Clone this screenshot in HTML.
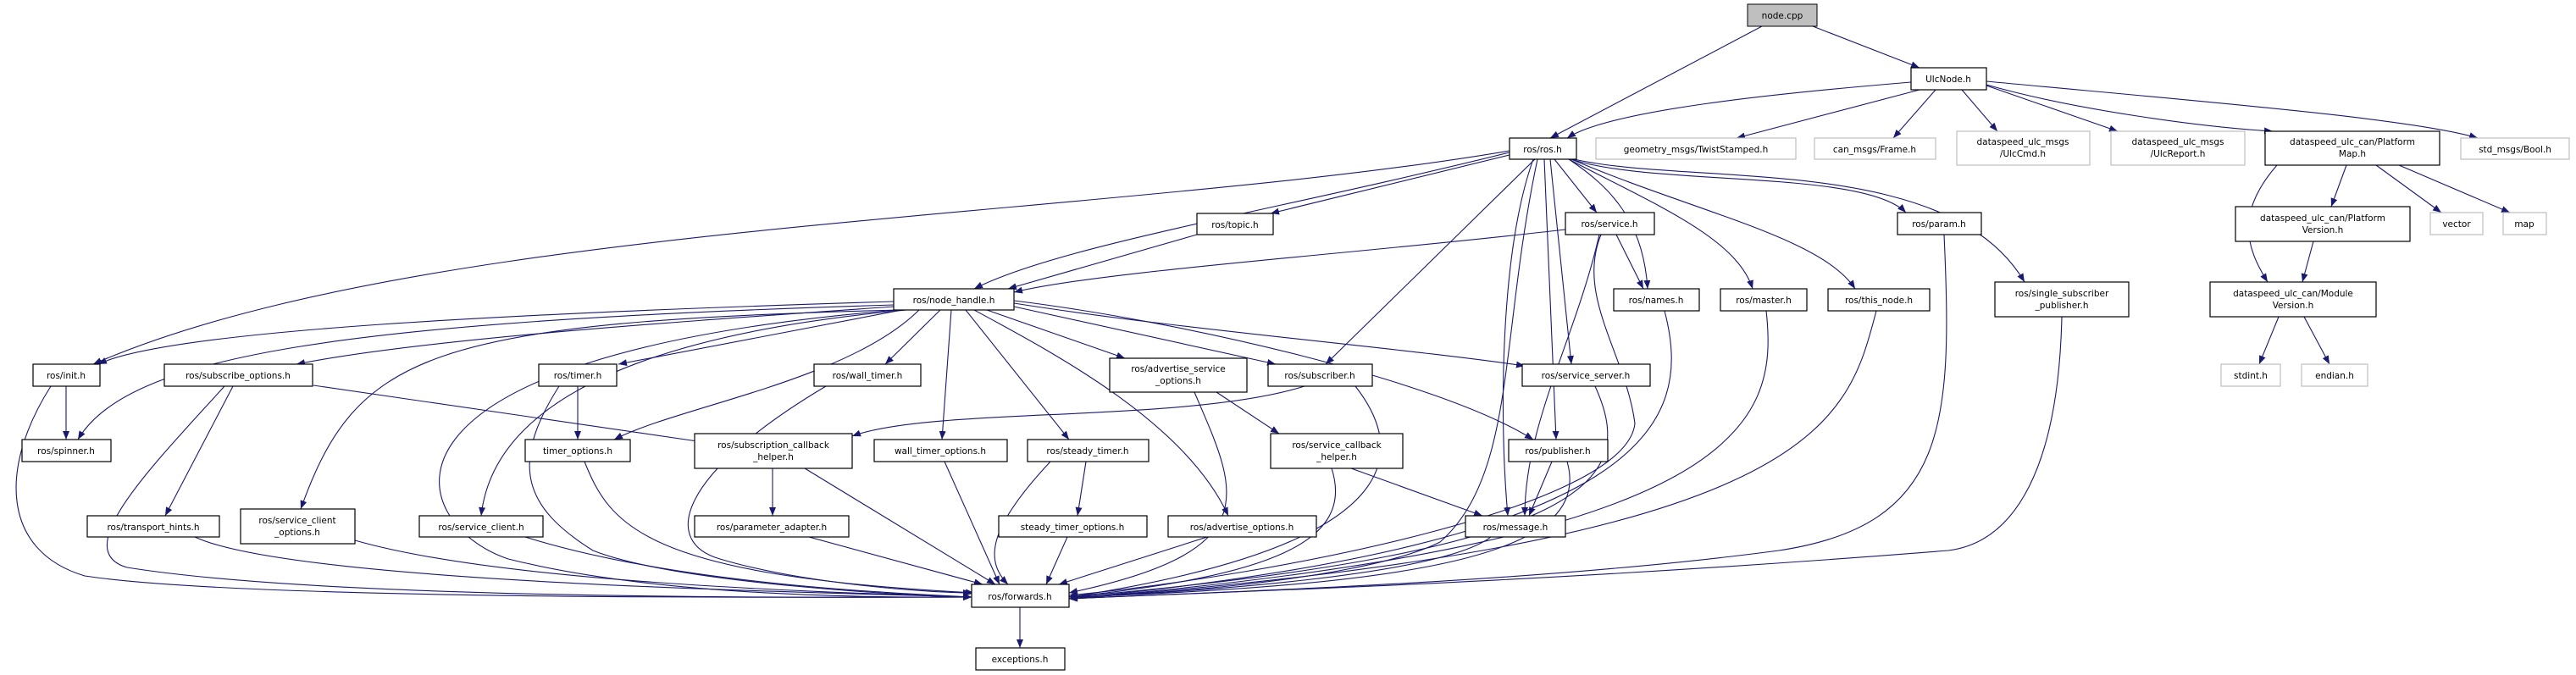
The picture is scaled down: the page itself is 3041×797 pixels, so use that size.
<!DOCTYPE html>
<html><head><meta charset="utf-8"><style>
html,body{margin:0;padding:0;background:#fff}
svg{display:block}
text{font-family:"DejaVu Sans","Liberation Sans",sans-serif;font-size:10.5px;fill:#000}
.n{fill:#fff;stroke:#000;stroke-width:1.2}
.g{fill:#fff;stroke:#bfbfbf;stroke-width:1.2}
.e{fill:none;stroke:#191970;stroke-width:1.1}
</style></head><body>
<svg width="3041" height="797" viewBox="0 0 3041 797" xmlns="http://www.w3.org/2000/svg">
<defs><marker id="a" markerUnits="userSpaceOnUse" markerWidth="10" markerHeight="8" refX="10" refY="4" orient="auto"><path d="M0,0 L10,4 L0,8 z" fill="#191970"/></marker></defs>
<g class="e" marker-end="url(#a)">
<path d="M2080 31 L1830 163"/>
<path d="M2140 31 L2266 80"/>
<path d="M2256 97 C2100 110 1900 130 1850 163"/>
<path d="M2266 106 L2050 163"/>
<path d="M2285 106 L2235 163"/>
<path d="M2316 106 L2358 155"/>
<path d="M2345 101 L2500 155"/>
<path d="M2345 100 C2450 130 2600 150 2683 155"/>
<path d="M2345 96 C2600 120 2850 140 2925 163"/>
<path d="M2770 195 L2752 244"/>
<path d="M2688 195 C2640 250 2650 290 2677 333"/>
<path d="M2805 195 L2882 251"/>
<path d="M2832 195 L2963 251"/>
<path d="M2731 285 L2718 333"/>
<path d="M2690 374 L2667 430"/>
<path d="M2720 374 L2750 430"/>
<path d="M1835 188 L1885 251"/>
<path d="M1852 188 C1900 220 1940 260 1945 341"/>
<path d="M1852 188 C1950 240 2050 280 2069 341"/>
<path d="M1855 188 C2000 250 2150 280 2190 341"/>
<path d="M1855 188 C1950 220 2200 200 2250 251"/>
<path d="M1858 188 C2000 220 2300 180 2390 333"/>
<path d="M1782 180 C1500 250 1250 290 1150 341"/>
<path d="M1782 183 L1500 252"/>
<path d="M1782 178 C1300 260 500 260 110 430"/>
<path d="M1812 188 L1565 430"/>
<path d="M1823 188 L1837 519"/>
<path d="M1830 188 L1855 430"/>
<path d="M1810 188 C1770 300 1770 500 1780 609"/>
<path d="M1815 188 C1770 400 1790 560 1700 640 C1600 690 1300 705 1262 705"/>
<path d="M1413 277 L1190 341"/>
<path d="M1848 271 C1600 300 1300 320 1197 345"/>
<path d="M1908 277 L1940 341"/>
<path d="M1888 277 C1860 400 1800 500 1800 609"/>
<path d="M1890 277 C1860 350 1920 420 1930 500 C1920 600 1500 680 1262 703"/>
<path d="M1055 356 C600 370 200 390 116 430"/>
<path d="M1055 360 C400 380 150 420 92 519"/>
<path d="M1055 362 C800 380 500 400 350 430"/>
<path d="M1060 366 C500 380 420 420 355 601"/>
<path d="M1060 366 C400 420 480 620 600 660 C800 710 1100 705 1147 705"/>
<path d="M1065 366 L730 430"/>
<path d="M1085 366 C1000 450 800 480 725 519"/>
<path d="M1070 366 C700 400 580 500 568 609"/>
<path d="M1110 366 L1045 430"/>
<path d="M1123 366 L1112 519"/>
<path d="M1140 366 L1262 519"/>
<path d="M1150 366 C1250 420 1400 500 1450 609"/>
<path d="M1165 366 L1328 423"/>
<path d="M1197 362 L1506 430"/>
<path d="M1197 358 C1400 390 1650 410 1800 432"/>
<path d="M1197 355 C1400 380 1700 450 1810 519"/>
<path d="M78 456 L78 519"/>
<path d="M60 456 C0 550 0 650 100 680 C300 710 1000 705 1147 705"/>
<path d="M275 456 L195 609"/>
<path d="M370 455 L830 522"/>
<path d="M265 456 C180 550 80 650 150 670 C400 710 1000 705 1147 705"/>
<path d="M682 456 L682 519"/>
<path d="M660 456 C600 550 620 600 700 650 C800 690 1100 705 1147 705"/>
<path d="M690 545 C720 620 760 680 1150 700"/>
<path d="M975 456 C800 560 780 640 850 660 C950 690 1100 700 1147 700"/>
<path d="M1436 463 L1510 512"/>
<path d="M1410 463 C1460 580 1500 650 1262 700"/>
<path d="M1540 456 C1400 500 1100 480 1006 515"/>
<path d="M1600 456 C1650 520 1690 640 1262 705"/>
<path d="M1883 456 C1930 560 1900 650 1262 705"/>
<path d="M912 553 L912 609"/>
<path d="M950 553 L1175 690"/>
<path d="M1115 545 L1180 690"/>
<path d="M1282 545 L1272 609"/>
<path d="M1240 545 C1170 620 1160 660 1190 690"/>
<path d="M1595 553 L1750 609"/>
<path d="M1572 553 C1600 640 1500 680 1262 705"/>
<path d="M1832 545 L1805 609"/>
<path d="M1850 545 C1880 650 1700 690 1262 705"/>
<path d="M230 634 C350 690 1000 700 1147 705"/>
<path d="M419 638 C600 690 1000 700 1147 705"/>
<path d="M620 634 C800 690 1050 700 1147 705"/>
<path d="M955 634 L1160 690"/>
<path d="M1260 634 L1235 690"/>
<path d="M1425 634 L1250 690"/>
<path d="M1760 634 C1700 680 1400 700 1262 705"/>
<path d="M1965 367 C2000 500 1950 640 1262 707"/>
<path d="M2085 367 C2100 500 2060 640 1262 707"/>
<path d="M2215 367 C2180 500 2150 640 1262 707"/>
<path d="M2295 277 C2305 500 2300 620 2100 650 C1800 690 1400 700 1262 707"/>
<path d="M2434 374 C2430 550 2380 640 2300 650 C1800 690 1400 700 1262 707"/>
<path d="M1204 717 L1204 765"/>
</g>
<g text-anchor="middle">
<rect x="2063" y="5" width="82" height="26" fill="#bfbfbf" stroke="#000"/><text x="2104" y="22">node.cpp</text>
<rect class="n" x="2256" y="80" width="89" height="26"/><text x="2300" y="97">UlcNode.h</text>
<rect class="n" x="1782" y="163" width="79" height="25"/><text x="1821" y="180">ros/ros.h</text>
<rect class="g" x="1884" y="163" width="236" height="25"/><text x="2002" y="180">geometry_msgs/TwistStamped.h</text>
<rect class="g" x="2142" y="163" width="143" height="25"/><text x="2213" y="180">can_msgs/Frame.h</text>
<rect class="g" x="2310" y="155" width="157" height="40"/><text x="2388" y="171">dataspeed_ulc_msgs</text><text x="2388" y="185">/UlcCmd.h</text>
<rect class="g" x="2492" y="155" width="158" height="40"/><text x="2571" y="171">dataspeed_ulc_msgs</text><text x="2571" y="185">/UlcReport.h</text>
<rect class="n" x="2674" y="155" width="206" height="40"/><text x="2777" y="171">dataspeed_ulc_can/Platform</text><text x="2777" y="185">Map.h</text>
<rect class="g" x="2905" y="163" width="128" height="25"/><text x="2969" y="180">std_msgs/Bool.h</text>
<rect class="n" x="1848" y="251" width="105" height="26"/><text x="1900" y="268">ros/service.h</text>
<rect class="n" x="2240" y="251" width="99" height="26"/><text x="2289" y="268">ros/param.h</text>
<rect class="n" x="1413" y="252" width="90" height="25"/><text x="1458" y="269">ros/topic.h</text>
<rect class="n" x="2639" y="244" width="206" height="41"/><text x="2742" y="261">dataspeed_ulc_can/Platform</text><text x="2742" y="275">Version.h</text>
<rect class="g" x="2869" y="251" width="62" height="26"/><text x="2900" y="268">vector</text>
<rect class="g" x="2955" y="251" width="51" height="26"/><text x="2980" y="268">map</text>
<rect class="n" x="1055" y="341" width="142" height="25"/><text x="1126" y="358">ros/node_handle.h</text>
<rect class="n" x="1905" y="341" width="101" height="26"/><text x="1955" y="358">ros/names.h</text>
<rect class="n" x="2031" y="341" width="102" height="26"/><text x="2082" y="358">ros/master.h</text>
<rect class="n" x="2158" y="341" width="120" height="26"/><text x="2218" y="358">ros/this_node.h</text>
<rect class="n" x="2355" y="333" width="158" height="41"/><text x="2434" y="350">ros/single_subscriber</text><text x="2434" y="364">_publisher.h</text>
<rect class="n" x="2609" y="333" width="196" height="41"/><text x="2707" y="350">dataspeed_ulc_can/Module</text><text x="2707" y="364">Version.h</text>
<rect class="n" x="39" y="430" width="79" height="26"/><text x="78" y="447">ros/init.h</text>
<rect class="n" x="194" y="430" width="175" height="26"/><text x="281" y="447">ros/subscribe_options.h</text>
<rect class="n" x="636" y="430" width="92" height="26"/><text x="682" y="447">ros/timer.h</text>
<rect class="n" x="961" y="430" width="126" height="26"/><text x="1024" y="447">ros/wall_timer.h</text>
<rect class="n" x="1310" y="423" width="162" height="40"/><text x="1391" y="439">ros/advertise_service</text><text x="1391" y="453">_options.h</text>
<rect class="n" x="1497" y="430" width="123" height="26"/><text x="1558" y="447">ros/subscriber.h</text>
<rect class="n" x="1797" y="430" width="151" height="26"/><text x="1872" y="447">ros/service_server.h</text>
<rect class="g" x="2622" y="430" width="70" height="26"/><text x="2657" y="447">stdint.h</text>
<rect class="g" x="2717" y="430" width="78" height="26"/><text x="2756" y="447">endian.h</text>
<rect class="n" x="26" y="519" width="105" height="26"/><text x="78" y="536">ros/spinner.h</text>
<rect class="n" x="620" y="519" width="124" height="26"/><text x="682" y="536">timer_options.h</text>
<rect class="n" x="820" y="512" width="186" height="41"/><text x="913" y="529">ros/subscription_callback</text><text x="913" y="543">_helper.h</text>
<rect class="n" x="1032" y="519" width="157" height="26"/><text x="1110" y="536">wall_timer_options.h</text>
<rect class="n" x="1213" y="519" width="143" height="26"/><text x="1284" y="536">ros/steady_timer.h</text>
<rect class="n" x="1500" y="512" width="156" height="41"/><text x="1578" y="529">ros/service_callback</text><text x="1578" y="543">_helper.h</text>
<rect class="n" x="1781" y="519" width="117" height="26"/><text x="1839" y="536">ros/publisher.h</text>
<rect class="n" x="103" y="609" width="156" height="25"/><text x="181" y="626">ros/transport_hints.h</text>
<rect class="n" x="284" y="601" width="135" height="41"/><text x="351" y="618">ros/service_client</text><text x="351" y="632">_options.h</text>
<rect class="n" x="495" y="609" width="146" height="25"/><text x="568" y="626">ros/service_client.h</text>
<rect class="n" x="820" y="609" width="182" height="25"/><text x="911" y="626">ros/parameter_adapter.h</text>
<rect class="n" x="1179" y="609" width="175" height="25"/><text x="1266" y="626">steady_timer_options.h</text>
<rect class="n" x="1379" y="609" width="175" height="25"/><text x="1466" y="626">ros/advertise_options.h</text>
<rect class="n" x="1730" y="609" width="118" height="25"/><text x="1789" y="626">ros/message.h</text>
<rect class="n" x="1147" y="690" width="115" height="27"/><text x="1204" y="708">ros/forwards.h</text>
<rect class="n" x="1152" y="765" width="105" height="26"/><text x="1204" y="782">exceptions.h</text>
</g>
</svg>
</body></html>
